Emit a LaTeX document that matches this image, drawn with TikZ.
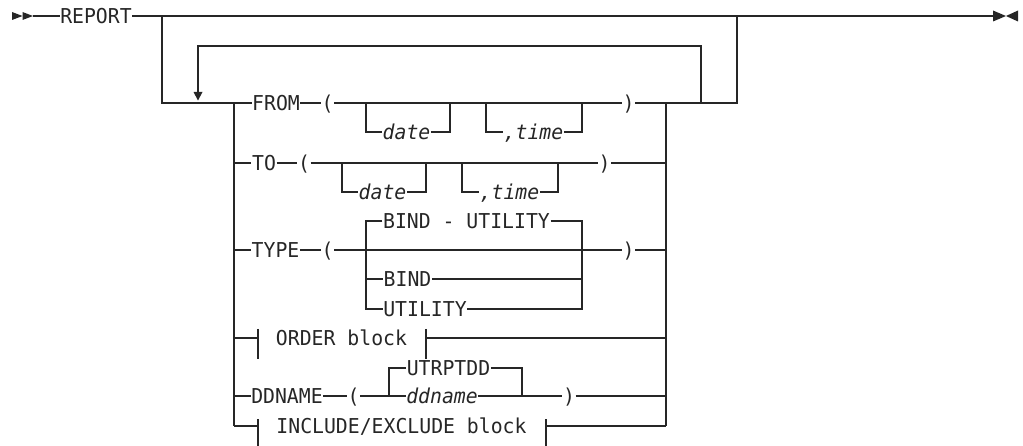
\documentclass[tikz,border=0pt]{standalone}
\usepackage{fontspec}
\newfontfamily\dmono[FakeStretch=0.965]{DejaVu Sans Mono}
\definecolor{ink}{HTML}{262626}
\tikzset{
  lbl/.style={inner sep=0pt, text height=14.9pt, text depth=0pt, font=\dmono\fontsize{20.5}{24}\selectfont},
  itl/.style={lbl, font=\dmono\fontsize{20.5}{24}\selectfont\itshape},
}
\begin{document}
\begin{tikzpicture}[x=1pt,y=-1pt,line width=1.3pt,color=ink]
\useasboundingbox (0,0) rectangle (1023,446);
% ---------- main line ----------
\fill (12,12) -- (22.5,16) -- (12,20) -- cycle;
\fill (22.5,12) -- (33,16) -- (22.5,20) -- cycle;
\coordinate (st) at (33,16);
\node[lbl] (report) at (96,16) {REPORT};
\coordinate (jl0) at (162,16);
\coordinate (jr0) at (737,16);
\coordinate (en) at (993,16);
\draw (st) -- (report.west);
\draw (report.east) -- (en);
\fill (993,10.5) -- (1006,16) -- (993,21.5) -- cycle;
\fill (1018,10.5) -- (1006,16) -- (1018,21.5) -- cycle;
% ---------- rails ----------
\coordinate (rl0) at (234,103);
\coordinate (rr0) at (666,103);
\coordinate (rl5) at (234,426);
\coordinate (rr5) at (666,426);
\coordinate (jr1) at (737,103);
\draw (jl0) |- (rl0);
\draw (rr0) -- (jr1) -- (jr0);
\draw (rl0) -- (rl5);
\draw (rr0) -- (rr5);
% ---------- repeat loop ----------
\coordinate (lpb) at (701,103);
\coordinate (lpt) at (701,46);
\coordinate (lpl) at (198,46);
\coordinate (lpa) at (198,92);
\draw (lpb) -- (lpt) -- (lpl) -- (lpa);
\fill (193.5,92) -- (202.5,92) -- (198,100.5) -- cycle;
% ---------- FROM ----------
\node[lbl] (from) at (276,103) {FROM};
\node[lbl] (fpo) at (327.5,103) {(};
\node[lbl] (fpc) at (628.5,103) {)};
\node[itl] (fdate) at (406.5,132) {date};
\node[itl] (ftime) at (533.5,132) {,time};
\coordinate (fd1) at (366,103);
\coordinate (fd2) at (450,103);
\coordinate (ft1) at (486,103);
\coordinate (ft2) at (582,103);
\draw (rl0) -- (from.west);
\draw (from.east) -- (fpo.west);
\draw (fpo.east) -- (fpc.west);
\draw (fpc.east) -- (rr0);
\draw (fd1) |- (fdate.west);
\draw (fdate.east) -| (fd2);
\draw (ft1) |- (ftime.west);
\draw (ftime.east) -| (ft2);
% ---------- TO ----------
\coordinate (rl1) at (234,163);
\coordinate (rr1) at (666,163);
\node[lbl] (to) at (264,163) {TO};
\node[lbl] (tpo) at (304,163) {(};
\node[lbl] (tpc) at (604.5,163) {)};
\node[itl] (tdate) at (382.5,192) {date};
\node[itl] (ttime) at (509.5,192) {,time};
\coordinate (td1) at (342,163);
\coordinate (td2) at (426,163);
\coordinate (tt1) at (462,163);
\coordinate (tt2) at (558,163);
\draw (rl1) -- (to.west);
\draw (to.east) -- (tpo.west);
\draw (tpo.east) -- (tpc.west);
\draw (tpc.east) -- (rr1);
\draw (td1) |- (tdate.west);
\draw (tdate.east) -| (td2);
\draw (tt1) |- (ttime.west);
\draw (ttime.east) -| (tt2);
% ---------- TYPE ----------
\coordinate (rl2) at (234,250);
\coordinate (rr2) at (666,250);
\node[lbl] (type) at (275.5,250) {TYPE};
\node[lbl] (ypo) at (327.5,250) {(};
\node[lbl] (ypc) at (628.5,250) {)};
\node[lbl] (bu) at (466.5,221) {BIND - UTILITY};
\node[lbl] (bind) at (407.5,279) {BIND};
\node[lbl] (util) at (425,309) {UTILITY};
\coordinate (yl) at (366,309);
\coordinate (yr) at (582,309);
\coordinate (ylb) at (366,279);
\coordinate (yrb) at (582,279);
\draw (rl2) -- (type.west);
\draw (type.east) -- (ypo.west);
\draw (ypo.east) -- (ypc.west);
\draw (ypc.east) -- (rr2);
\draw (bu.west) -| (yl) -- (util.west);
\draw (bu.east) -| (yr) -- (util.east);
\draw (ylb) -- (bind.west);
\draw (bind.east) -- (yrb);
% ---------- ORDER block ----------
\coordinate (rl3) at (234,338);
\coordinate (rr3) at (666,338);
\coordinate (ob1) at (258,338);
\coordinate (ob2) at (426,338);
\node[lbl] (order) at (341.5,338) {ORDER block};
\draw (rl3) -- (ob1);
\draw (258,329) -- (258,359);
\draw (426,329) -- (426,359);
\draw (ob2) -- (rr3);
% ---------- DDNAME ----------
\coordinate (rl4) at (234,396);
\coordinate (rr4) at (666,396);
\node[lbl] (ddn) at (287,396) {DDNAME};
\node[lbl] (dpo) at (353.5,396) {(};
\node[lbl] (dpc) at (569,396) {)};
\node[lbl] (utr) at (448.5,368) {UTRPTDD};
\node[itl] (ddv) at (442,396) {ddname};
\coordinate (dl) at (389,396);
\coordinate (dr) at (522,396);
\draw (rl4) -- (ddn.west);
\draw (ddn.east) -- (dpo.west);
\draw (dpo.east) -- (ddv.west);
\draw (ddv.east) -- (dpc.west);
\draw (dpc.east) -- (rr4);
\draw (dl) |- (utr.west);
\draw (utr.east) -| (dr);
% ---------- INCLUDE/EXCLUDE block ----------
\coordinate (ib1) at (258,426);
\coordinate (ib2) at (546,426);
\node[lbl] (incl) at (401.5,426) {INCLUDE/EXCLUDE block};
\draw (rl5) -- (ib1);
\draw (258,419) -- (258,449);
\draw (546,419) -- (546,449);
\draw (ib2) -- (rr5);
\end{tikzpicture}
\end{document}
